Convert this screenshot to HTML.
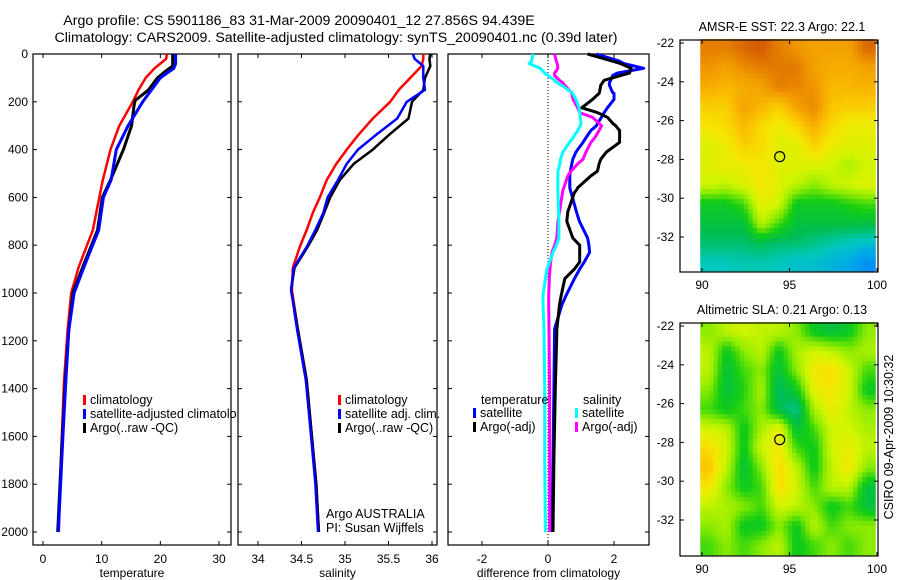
<!DOCTYPE html>
<html><head><meta charset="utf-8">
<style>
html,body{margin:0;padding:0;background:#fff;}
svg{display:block;font-family:"Liberation Sans",Arial,sans-serif;}
text{fill:#000;}
</style></head>
<body>
<svg id="fig" width="900" height="580" viewBox="0 0 900 580" xmlns="http://www.w3.org/2000/svg">
<text x="299" y="25" font-size="14.2" text-anchor="middle">Argo profile: CS 5901186_83 31-Mar-2009 20090401_12 27.856S 94.439E</text>
<text x="336" y="42" font-size="14.2" text-anchor="middle">Climatology: CARS2009. Satellite-adjusted climatology: synTS_20090401.nc (0.39d later)</text>
<g id="layer"></g>
</svg>
<script>
// ---- data ----
const tDepth=[0,20,40,60,100,150,200,300,400,527,600,736,890,1000,1155,1364,1600,1800,2000];
const tClim=[21.1,21.0,20.0,19.0,17.5,16.3,15.3,13.0,11.5,10.2,9.6,8.5,6.1,4.8,4.2,3.6,3.2,2.9,2.7];
const tSat=[22.6,22.6,22.6,22.3,20.0,18.5,17.0,14.5,12.5,11.6,10.3,9.5,7.0,5.3,4.4,3.9,3.4,3.0,2.6];
const tArgoDepth=[0,50,70,100,150,195,220,300,400,527,600,736,890,1000,1155,1364,1600,1800,2000];
const tArgo=[22.1,22.1,21.0,19.5,18.0,15.7,15.5,15.1,13.7,11.5,10.1,9.3,6.8,5.1,4.4,3.8,3.3,2.9,2.5];
const sDepth=[0,20,50,100,150,200,270,340,400,460,527,600,665,736,807,895,987,1155,1364,1600,1800,2000];
const sClim=[35.9,35.9,35.88,35.75,35.62,35.52,35.32,35.15,35.02,34.9,34.79,34.71,34.63,34.56,34.48,34.4,34.39,34.46,34.56,34.62,34.67,34.7];
const sSat=[35.78,35.8,35.9,35.9,35.92,35.71,35.6,35.35,35.15,35.02,34.92,34.8,34.75,34.66,34.56,34.41,34.38,34.45,34.55,34.61,34.66,34.69];
const sArgo=[35.98,35.97,35.98,35.92,35.9,35.77,35.73,35.5,35.32,35.1,34.94,34.83,34.76,34.68,34.57,34.42,34.38,34.46,34.56,34.62,34.67,34.7];
const dDepth=[0,30,40,60,80,90,110,120,130,160,165,190,225,245,265,290,300,320,350,370,410,440,460,490,510,560,570,580,660,700,770,800,830,870,900,940,1010,1040,1050,1150,1400,1700,2000];
const dSalSat=[-0.45,-0.5,-0.57,-0.24,-0.1,0,0.2,0.27,0.4,0.72,0.74,0.85,0.94,0.96,0.98,1.0,0.98,0.9,0.76,0.65,0.45,0.38,0.36,0.3,0.3,0.3,0.3,0.3,0.32,0.33,0.33,0.25,0.15,0.05,-0.03,-0.08,-0.15,-0.15,-0.15,-0.12,-0.1,-0.1,-0.08];
const dSalArgo=[0.2,0.25,0.28,0.3,0.2,0.2,0.35,0.45,0.5,0.7,0.72,0.76,0.9,0.96,1.35,1.55,1.62,1.55,1.42,1.3,1.15,1.06,0.9,0.7,0.6,0.48,0.45,0.44,0.35,0.3,0.27,0.2,0.12,0.08,0.06,0.04,0.02,0.02,0.02,0.03,0.05,0.05,0.05];
const dTempSat=[1.47,2.17,2.3,2.9,2.1,1.96,1.9,1.86,1.86,1.95,2.0,2.0,1.8,1.7,1.62,1.5,1.47,1.3,1.15,1.06,0.85,0.75,0.72,0.68,0.66,0.66,0.68,0.7,0.86,0.95,1.2,1.24,1.26,1.1,0.96,0.8,0.55,0.45,0.42,0.2,0.18,0.15,0.12];
const dTempArgo=[1.2,1.96,2.2,2.52,2.47,2.2,1.7,1.65,1.6,1.56,1.55,1.35,1.02,1.5,1.8,1.96,2.05,2.17,2.17,2.17,1.77,1.6,1.55,1.5,1.3,0.9,0.86,0.8,0.6,0.57,0.75,0.96,0.96,0.96,0.8,0.51,0.4,0.36,0.35,0.27,0.22,0.18,0.15];
const depthTicks=[0,200,400,600,800,1000,1200,1400,1600,1800,2000];
const tTicks=[0,10,20,30];
const sTicks=[34,34.5,35,35.5,36];
const sTickLabels=["34","34.5","35","35.5","36"];
const dTicks=[-2,0,2];
const lonTicks=[90,95,100];
const latTicks=[-22,-24,-26,-28,-30,-32];
const mapLons=[90,91,92,93,94,95,96,97,98,99];
const mapLats=[-21.8,-22.8,-23.8,-24.8,-25.8,-26.8,-27.8,-28.8,-29.8,-30.8,-31.8,-32.8];
const sstGrid=[
[0.85,0.85,0.88,0.9,0.85,0.82,0.8,0.8,0.8,0.88],
[0.82,0.8,0.83,0.85,0.86,0.86,0.8,0.78,0.78,0.8],
[0.78,0.76,0.78,0.8,0.85,0.84,0.82,0.76,0.76,0.77],
[0.72,0.72,0.8,0.76,0.72,0.8,0.84,0.74,0.72,0.72],
[0.68,0.7,0.76,0.7,0.66,0.7,0.78,0.7,0.66,0.66],
[0.64,0.66,0.72,0.7,0.64,0.64,0.72,0.66,0.64,0.64],
[0.64,0.66,0.66,0.68,0.64,0.64,0.64,0.62,0.58,0.62],
[0.62,0.6,0.64,0.68,0.64,0.6,0.55,0.6,0.62,0.64],
[0.45,0.45,0.5,0.66,0.62,0.45,0.45,0.45,0.48,0.5],
[0.42,0.42,0.42,0.6,0.5,0.42,0.42,0.42,0.42,0.42],
[0.38,0.38,0.38,0.4,0.38,0.38,0.36,0.34,0.32,0.3],
[0.32,0.32,0.33,0.33,0.32,0.3,0.3,0.27,0.25,0.2]];
const slaGrid=[
[0.55,0.6,0.62,0.6,0.6,0.55,0.45,0.42,0.45,0.55],
[0.6,0.45,0.55,0.6,0.45,0.58,0.62,0.6,0.55,0.58],
[0.6,0.42,0.5,0.55,0.42,0.55,0.68,0.7,0.62,0.5],
[0.55,0.42,0.48,0.58,0.38,0.45,0.65,0.68,0.62,0.45],
[0.5,0.45,0.5,0.55,0.4,0.35,0.58,0.66,0.6,0.55],
[0.62,0.6,0.45,0.58,0.66,0.42,0.5,0.62,0.62,0.58],
[0.7,0.62,0.45,0.62,0.68,0.5,0.45,0.62,0.66,0.6],
[0.74,0.6,0.42,0.55,0.7,0.6,0.45,0.6,0.68,0.55],
[0.68,0.55,0.45,0.5,0.7,0.62,0.5,0.6,0.6,0.42],
[0.6,0.58,0.55,0.5,0.62,0.6,0.55,0.45,0.5,0.42],
[0.55,0.58,0.45,0.45,0.55,0.45,0.6,0.5,0.55,0.55],
[0.5,0.55,0.5,0.55,0.6,0.45,0.5,0.55,0.5,0.55]];
const argoLon=94.439, argoLat=-27.856;

// ---- helpers ----
const NS="http://www.w3.org/2000/svg";
const layer=document.getElementById('layer');
function mk(tag,attrs,parent){const e=document.createElementNS(NS,tag);for(const k in attrs)e.setAttribute(k,attrs[k]);(parent||layer).appendChild(e);return e;}
function txt(x,y,s,size,anchor,parent){const t=mk('text',{x:x,y:y,'font-size':size,'text-anchor':anchor||'start'},parent);t.textContent=s;return t;}
const PT=54,PB=545;
const yD=d=>PT+d*0.239;
function lin(v0,p0,v1,p1){return v=>p0+(v-v0)*(p1-p0)/(v1-v0);}
function panel(name,x0,x1,xs,ticks,labels,xlabel,showY){
  const g=mk('g',{});
  
  
  const r=mk('rect',{x:x0,y:PT,width:x1-x0,height:PB-PT,fill:'none',stroke:'#000','stroke-width':1.2},g);
  
  
  ticks.forEach((v,i)=>{const x=xs(v);
    mk('line',{x1:x,y1:PB,x2:x,y2:PB-4,stroke:'#000'},g);mk('line',{x1:x,y1:PT,x2:x,y2:PT+4,stroke:'#000'},g);
    const t=txt(x,PB+18,labels[i],12,'middle',g);
    
    });
  depthTicks.forEach(d=>{const y=yD(d);
    mk('line',{x1:x0,y1:y,x2:x0+4,y2:y,stroke:'#000'},g);mk('line',{x1:x1,y1:y,x2:x1-4,y2:y,stroke:'#000'},g);
    if(showY){const t=txt(28,y+4,String(d),12,'end',g);
      
      }});
  const xl=txt((x0+x1)/2,PB+32,xlabel,12,'middle',g);
  
  
  return g;
}
function line(name,depths,vals,xs,color,w,g){
  const pts=depths.map((d,i)=>xs(vals[i]).toFixed(1)+','+yD(d).toFixed(1)).join(' ');
  const p=mk('polyline',{points:pts,fill:'none',stroke:color,'stroke-width':w,'stroke-linejoin':'round'},g);
  
  
}
function legendEntry(name,x,y,color,label,g){
  const gg=mk('g',{},g);
  
  
  mk('rect',{x:x,y:y-9,width:3,height:10,fill:color},gg);
  txt(x+7,y,label,12.5,'start',gg);
}

// temperature panel
const xT=lin(0,43,30,219);
const gT=panel('temperature-panel',33,231,xT,tTicks,tTicks.map(String),'temperature',true);
line('temp-climatology',tDepth,tClim,xT,'#ff0000',2.5,gT);
line('temp-argo',tArgoDepth,tArgo,xT,'#000000',3,gT);
line('temp-satellite-adjusted',tDepth,tSat,xT,'#0000ff',3,gT);
legendEntry('legend-climatology',83,404,'#ff0000','climatology',gT);
legendEntry('legend-satellite-adjusted',83,418,'#0000ff','satellite-adjusted climatolo',gT);
legendEntry('legend-argo',83,432,'#000000','Argo(..raw -QC)',gT);

// salinity panel
const xS=lin(34,258,36,432);
const gS=panel('salinity-panel',238,437,xS,sTicks,sTickLabels,'salinity',false);
line('sal-climatology',sDepth,sClim,xS,'#ff0000',2.5,gS);
line('sal-argo',sDepth,sArgo,xS,'#000000',2.5,gS);
line('sal-satellite-adjusted',sDepth,sSat,xS,'#0000ff',2.5,gS);
legendEntry('legend-climatology',338,404,'#ff0000','climatology',gS);
legendEntry('legend-satellite-adj',338,418,'#0000ff','satellite adj. clim.',gS);
legendEntry('legend-argo',338,432,'#000000','Argo(..raw -QC)',gS);
const c1=txt(326,518,'Argo AUSTRALIA',12.5,'start',gS);


const c2=txt(326,532,'PI: Susan Wijffels',12.5,'start',gS);



// difference panel
const xDf=lin(0,548,2,614);
const gD=panel('difference-panel',448,649,xDf,dTicks,dTicks.map(String),'difference from climatology',false);
const zl=mk('line',{x1:548,y1:PT,x2:548,y2:PB,stroke:'#000','stroke-dasharray':'1,2'},gD);


line('diff-temp-satellite',dDepth,dTempSat,xDf,'#0000ff',3,gD);
line('diff-temp-argo',dDepth,dTempArgo,xDf,'#000000',3,gD);
line('diff-sal-argo',dDepth,dSalArgo,xDf,'#ff00ff',3,gD);
line('diff-sal-satellite',dDepth,dSalSat,xDf,'#00ffff',3,gD);
const lt=txt(481,404,'temperature',12.5,'start',gD);


const ls=txt(583,404,'salinity',12.5,'start',gD);


legendEntry('legend-temp-satellite',473,417,'#0000ff','satellite',gD);
legendEntry('legend-temp-argo',473,431,'#000000','Argo(-adj)',gD);
legendEntry('legend-sal-satellite',575,417,'#00ffff','satellite',gD);
legendEntry('legend-sal-argo',575,431,'#ff00ff','Argo(-adj)',gD);

// maps
const stops=[[0.15,[0,120,255]],[0.25,[0,170,230]],[0.32,[0,200,190]],[0.4,[0,190,80]],[0.47,[20,205,20]],[0.55,[140,235,0]],[0.62,[210,245,0]],[0.68,[245,230,0]],[0.75,[250,190,0]],[0.82,[240,150,0]],[0.9,[210,90,0]],[1,[180,40,0]]];
function cmap(v){if(v<=stops[0][0])return stops[0][1];for(let i=1;i<stops.length;i++){if(v<=stops[i][0]){const a=stops[i-1],b=stops[i];const f=(v-a[0])/(b[0]-a[0]);return a[1].map((c,k)=>Math.round(c+(b[1][k]-c)*f));}}return stops[stops.length-1][1];}
function sample(grid,fr,fc){const R=grid.length,C=grid[0].length;fr=Math.max(0,Math.min(R-1,fr));fc=Math.max(0,Math.min(C-1,fc));
  const r0=Math.floor(fr),c0=Math.floor(fc),r1=Math.min(R-1,r0+1),c1=Math.min(C-1,c0+1),a=fr-r0,b=fc-c0;
  return grid[r0][c0]*(1-a)*(1-b)+grid[r0][c1]*(1-a)*b+grid[r1][c0]*a*(1-b)+grid[r1][c1]*a*b;}
function mapPanel(name,top,bottom,title,grid){
  const g=mk('g',{});
  
  
  const xL=lin(90,702,100,877), yL=lin(-22,top+3,-32,top+197);
  const sub=4;
  const ch=(yL(mapLats[0]-1)-yL(mapLats[0]))/sub, cw=(xL(91)-xL(90))/sub;
  for(let r=0;r<grid.length;r++)for(let c=0;c<grid[0].length;c++)for(let i=0;i<sub;i++)for(let j=0;j<sub;j++){
    const v=sample(grid,r+(i+0.5)/sub-0.5,c+(j+0.5)/sub-0.5);
    const col=cmap(v);
    const x=xL(mapLons[c]-0.1)+j*cw, y=yL(mapLats[r])+i*ch;
    if(y>=bottom)continue;
    const cell=mk('rect',{x:x.toFixed(2),y:y.toFixed(2),width:(cw+0.5).toFixed(2),height:(Math.min(ch+0.5,bottom-y)).toFixed(2),fill:'rgb('+col.join(',')+')'},g);
    
    
  }
  mk('rect',{x:680,y:top,width:198,height:bottom-top,fill:'none',stroke:'#000','stroke-width':1.2},g);
  lonTicks.forEach(v=>{const x=xL(v);mk('line',{x1:x,y1:bottom,x2:x,y2:bottom-4,stroke:'#000'},g);mk('line',{x1:x,y1:top,x2:x,y2:top+4,stroke:'#000'},g);
    const t=txt(x,bottom+17,String(v),12,'middle',g);
    
    });
  latTicks.forEach(v=>{const y=yL(v);mk('line',{x1:680,y1:y,x2:684,y2:y,stroke:'#000'},g);mk('line',{x1:878,y1:y,x2:874,y2:y,stroke:'#000'},g);
    const t=txt(674,y+4,String(v),12,'end',g);
    
    });
  const cc=mk('circle',{cx:xL(argoLon),cy:yL(argoLat),r:5,fill:'none',stroke:'#000','stroke-width':1.2},g);
  
  
  const tt=txt(782,top-9,title,12.5,'middle',g);
  
  
}
mapPanel('sst-map',40,272,'AMSR-E SST: 22.3 Argo: 22.1',sstGrid);
mapPanel('sla-map',323,556,'Altimetric SLA: 0.21 Argo: 0.13',slaGrid);
const cs=txt(0,0,'CSIRO 09-Apr-2009 10:30:32',12.5,'middle');
cs.setAttribute('transform','translate(893,437) rotate(-90)');


</script>
</body></html>
